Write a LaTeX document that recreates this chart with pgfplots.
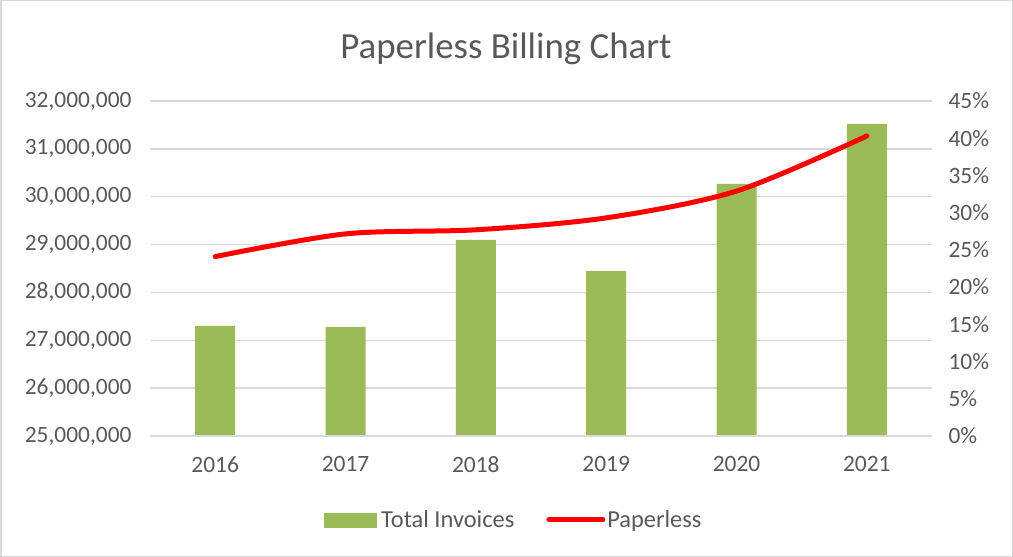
\documentclass[border=0pt]{standalone}
\usepackage{pgfplots}
\pgfplotsset{compat=1.18}
\usepackage{fontspec}
\setmainfont{Carlito}
\definecolor{txt}{HTML}{595959}
\definecolor{grd}{HTML}{D9D9D9}
\definecolor{barc}{HTML}{9BBB59}
\begin{document}
\begin{tikzpicture}
\draw[grd, line width=1.5bp] (0.75bp,0.75bp) rectangle (1012.25bp,556.25bp);
\node[text=txt, font=\fontsize{37}{42}\selectfont] at (506bp,508bp) {Paperless Billing Chart};
\begin{axis}[
  at={(150bp,121bp)}, anchor=south west,
  scale only axis, width=782bp, height=335bp,
  xmin=-0.5, xmax=5.5, ymin=25000000, ymax=32000000,
  xtick={0,...,5}, xticklabels={2016,2017,2018,2019,2020,2021},
  ytick={25000000,26000000,...,32000000},
  scaled y ticks=false,
  yticklabel style={xshift=-15bp, /pgf/number format/fixed, /pgf/number format/1000 sep={,}, /pgf/number format/assume math mode=true},
  tick label style={text=txt, font=\fontsize{23.5}{28}\selectfont},
  xticklabel style={yshift=-17bp},
  major tick length=0pt,
  ymajorgrids, grid style={grd, line width=1.5bp},
  axis line style={draw=none},
  axis x line*=bottom, axis y line*=left,
  clip=false,
]
\addplot[ybar, bar width=40bp, fill=barc, draw=none] coordinates {
(0,27300000) (1,27280000) (2,29100000) (3,28450000) (4,30270000) (5,31520000)};
\draw[grd, line width=1.5bp] (rel axis cs:0,0) -- (rel axis cs:1,0);
\end{axis}
\begin{axis}[
  at={(150bp,121bp)}, anchor=south west,
  scale only axis, width=782bp, height=335bp,
  xmin=-0.5, xmax=5.5, ymin=0, ymax=45,
  axis x line=none, axis y line*=right,
  ytick={0,5,...,45},
  yticklabel={\pgfmathprintnumber{\tick}\%},
  yticklabel style={xshift=13bp, /pgf/number format/assume math mode=true},
  tick label style={text=txt, font=\fontsize{23.5}{28}\selectfont},
  major tick length=0pt,
  axis line style={draw=none},
  legend style={at={(0.465,-0.25)}, anchor=center, draw=none, fill=none,
    text=txt, font=\fontsize{24.5}{28}\selectfont, legend columns=2,
    /tikz/every even column/.append style={column sep=30bp}},
]
\addlegendimage{legend image code/.code={\fill[barc] (0bp,-7bp) rectangle (52bp,7bp);}}
\addlegendentry{\hspace{3bp}Total Invoices}
\addplot[red, line width=5bp, smooth, line cap=round, line join=round,
  legend image code/.code={\draw[red, line width=5bp, line cap=round] (0bp,0bp) -- (54bp,0bp);}]
 coordinates {(0,24.1) (1,27.15) (2,27.7) (3,29.3) (4,32.9) (5,40.3)};
\addlegendentry{Paperless}
\end{axis}
\end{tikzpicture}
\end{document}
